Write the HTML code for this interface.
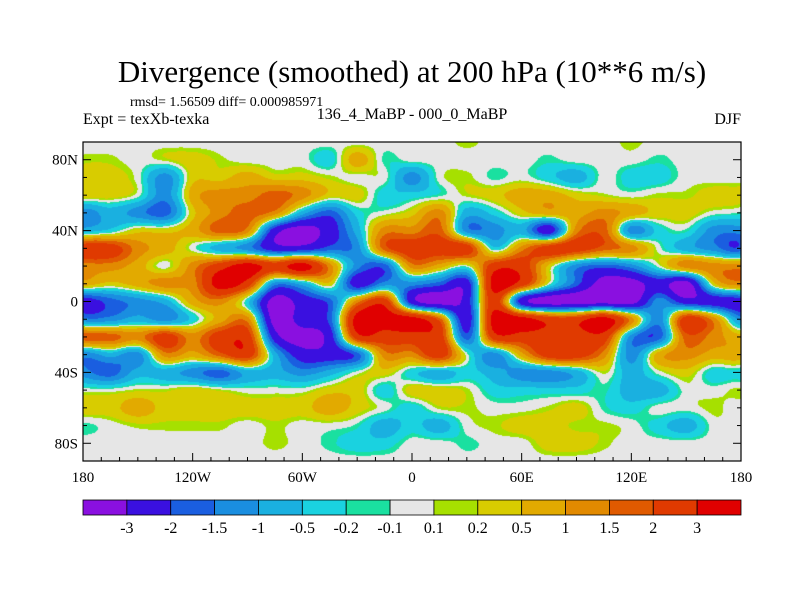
<!DOCTYPE html>
<html><head><meta charset="utf-8"><style>
body{margin:0;background:#fff;width:800px;height:600px;overflow:hidden;position:relative;font-family:"Liberation Serif",serif;}
.t{position:absolute;white-space:nowrap;color:#000;}
</style></head><body>
<div class="t" style="left:0;width:824px;text-align:center;top:54px;font-size:31px;">Divergence (smoothed) at 200 hPa (10**6 m/s)</div>
<div class="t" style="left:130px;top:95px;font-size:14px;">rmsd= 1.56509 diff= 0.000985971</div>
<div class="t" style="left:83px;top:111px;font-size:16px;">Expt = texXb-texka</div>
<div class="t" style="left:300px;width:224px;text-align:center;top:106px;font-size:16px;">136_4_MaBP - 000_0_MaBP</div>
<div class="t" style="left:700px;width:41px;text-align:right;top:111px;font-size:16px;">DJF</div>
<canvas id="map" width="658" height="319" style="position:absolute;left:83px;top:142px;"></canvas>
<svg id="ov" width="800" height="600" style="position:absolute;left:0;top:0;"></svg>
<script>
const levels=[-3,-2,-1.5,-1,-0.5,-0.2,-0.1,0.1,0.2,0.5,1,1.5,2,3];
const levelLabels=["-3","-2","-1.5","-1","-0.5","-0.2","-0.1","0.1","0.2","0.5","1","1.5","2","3"];
const colors=["#8a10e0","#3a10e0","#1a5ee0","#1a8ee0","#1ab0e0","#1ad2e0","#1ae0a0","#e6e6e6","#a6e000","#d8cc00","#e2aa00","#e28a00","#e05a00","#e03a00","#e00000"];
const lons=[-180,-165,-150,-135,-120,-105,-90,-75,-60,-45,-30,-15,0,15,30,45,60,75,90,105,120,135,150,165,180];
const lats=[90,80,70,60,50,40,30,20,10,0,-10,-20,-30,-40,-50,-60,-70,-80,-90];
const xTickLabels=["180","120W","60W","0","60E","120E","180"];
const xTickLons=[-180,-120,-60,0,60,120,180];
const yTickLabels=["80N","40N","0","40S","80S"];
const yTickLats=[80,40,0,-40,-80];
// codes: P=-3.5 B=-2.5 b=-1.75 c=-1.25 C=-0.75 t=-0.35 g=-0.15 W=0 l=0.15 y=0.35 o=0.75 O=1.25 r=1.75 R=2.5 X=3.5
const rowCodes=[
"WWWWWWWWWWWWWWlWWWWWlWWWW",
"llWlylWWWtogWWWWWgWWWgWWW",
"yyWcyyoyylWWcWlgWtCWttWWW",
"yyWcoOOrOyyttglyooylWllyy",
"cCcbyOrOCbtWyOCtyooOoyyWg",
"CtyyorOBPBCOOrccCBOrctgcc",
"RROoWCcBBbcrRRRtORRrOWCcb",
"OOoWORXRXOcbOoWRRycbcWOOO",
"oyoOOXRcCyBccbBXRWbPPBPyO",
"BbcCoOtPBbORBPBRBPPPPcBBB",
"ccCctoOPBbXXXrBXXRRXOcROc",
"rrORORRBPBRRRRbRRRRRcbrOo",
"cCcOorRCBBbOORWcoRROcoOoo",
"cbCCcbCCcCWytCtCccClCWytt",
"WWllylWWWyytyylttttgCCWWl",
"yyoyyyyyyoyWtllWWlygtWWlW",
"gWllllWlWWgCtCWlyyllWtCWW",
"WWWWWWWlWgttWWgWWyylWWWWW",
"WWWWWWWWWWWWWWWWWWWWWWWWW"];
const codeVal={P:-3.5,B:-2.5,b:-1.75,c:-1.25,C:-0.75,t:-0.35,g:-0.15,W:0,l:0.15,y:0.35,o:0.75,O:1.25,r:1.75,R:2.5,X:3.5};
const field=rowCodes.map(r=>r.split('').map(ch=>codeVal[ch]));

const PX=83,PY=142,PW=658,PH=319;
function xOf(lon){return PX+(lon+180)/360*PW;}
function yOf(lat){return PY+(90-lat)/180*PH;}
function colorOf(v){let i=0;while(i<levels.length&&v>=levels[i])i++;return colors[i];}
function hexRGB(h){return [parseInt(h.substr(1,2),16),parseInt(h.substr(3,2),16),parseInt(h.substr(5,2),16)];}
function cr(p0,p1,p2,p3,t){return 0.5*((2*p1)+(-p0+p2)*t+(2*p0-5*p1+4*p2-p3)*t*t+(-p0+3*p1-3*p2+p3)*t*t*t);}
const nC=lons.length,nR=lats.length;
function F(r,c){r=Math.max(0,Math.min(nR-1,r));if(c<0)c+=nC-1;if(c>nC-1)c-=nC-1;return field[r][c];}

const cv=document.getElementById('map'),ctx=cv.getContext('2d');
const img=ctx.createImageData(PW,PH);
for(let py=0;py<PH;py++){
  const lat=90-(py+0.5)/PH*180;
  let fr=(lats[0]-lat)/(lats[0]-lats[1]);let r0=Math.min(Math.floor(fr),nR-2);let ty=fr-r0;
  for(let px=0;px<PW;px++){
    const lon=-180+(px+0.5)/PW*360;
    let fc=(lon-lons[0])/(lons[1]-lons[0]);let c0=Math.min(Math.floor(fc),nC-2);let tx=fc-c0;
    const rows=[];
    for(let k=-1;k<=2;k++){rows.push(cr(F(r0+k,c0-1),F(r0+k,c0),F(r0+k,c0+1),F(r0+k,c0+2),tx));}
    const v=cr(rows[0],rows[1],rows[2],rows[3],ty);
    const rgb=hexRGB(colorOf(v));const k=(py*PW+px)*4;
    img.data[k]=rgb[0];img.data[k+1]=rgb[1];img.data[k+2]=rgb[2];img.data[k+3]=255;
  }
}
ctx.putImageData(img,0,0);

const NS='http://www.w3.org/2000/svg',svg=document.getElementById('ov');
function el(tag,attrs,txt){const e=document.createElementNS(NS,tag);for(const k in attrs)e.setAttribute(k,attrs[k]);if(txt!==undefined)e.textContent=txt;svg.appendChild(e);return e;}
const frame=el('rect',{x:PX,y:PY,width:PW,height:PH,fill:'none',stroke:'#000','stroke-width':1.2});


for(let lon=-170;lon<180;lon+=10){const x=xOf(lon);const big=lon%60===0;
  const t=el('line',{x1:x,x2:x,y1:PY+PH,y2:PY+PH-(big?8:4),stroke:'#000'});
  
  }
for(let lat=-80;lat<90;lat+=10){const y=yOf(lat);const big=lat%40===0;
  const a=el('line',{x1:PX,x2:PX+(big?8:4),y1:y,y2:y,stroke:'#000'});
  
  
  const b=el('line',{x1:PX+PW,x2:PX+PW-(big?8:4),y1:y,y2:y,stroke:'#000'});
  
  }
xTickLabels.forEach((s,i)=>{const t=el('text',{x:xOf(xTickLons[i]),y:482,'text-anchor':'middle','font-size':15,'font-family':'Liberation Serif, serif'},s);
  
  });
yTickLabels.forEach((s,i)=>{const t=el('text',{x:78,y:yOf(yTickLats[i])+5,'text-anchor':'end','font-size':15,'font-family':'Liberation Serif, serif'},s);
  
  });
const bw=PW/colors.length;
colors.forEach((c,i)=>{const r=el('rect',{x:PX+i*bw,y:500,width:bw,height:15,fill:c,stroke:'#000','stroke-width':0.8});
  
  });
levelLabels.forEach((s,i)=>{const t=el('text',{x:PX+(i+1)*bw,y:533,'text-anchor':'middle','font-size':16,'font-family':'Liberation Serif, serif'},s);
  
  });
</script>
</body></html>
